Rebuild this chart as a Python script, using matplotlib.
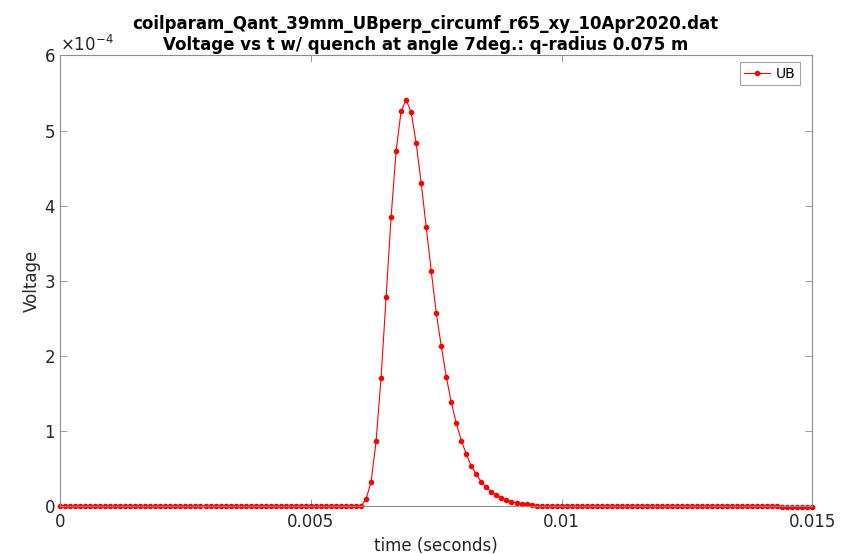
import numpy as np
import matplotlib.pyplot as plt

# sample times: 151 samples, 1e-4 s apart
t = np.arange(151) * 1e-4

# voltage (units of 1e-4 V)
v_before = [0.0] * 58
v_pulse = [0.002, 0.003, 0.005, 0.09, 0.32, 0.86, 1.71, 2.78, 3.85, 4.73,
           5.26, 5.41, 5.24, 4.83, 4.30, 3.71, 3.13, 2.57, 2.13, 1.72,
           1.38, 1.10, 0.87, 0.69, 0.53, 0.42, 0.32, 0.25, 0.19, 0.15,
           0.11, 0.08, 0.057, 0.044, 0.031, 0.023, 0.013, 0.006, 0.003, 0.002]
v_after = [0.001] * 46 + [-0.01] * 7
voltage = np.array(v_before + v_pulse + v_after) * 1e-4

xticks = [0, 0.005, 0.01, 0.015]
xlabels = ['0', '0.005', '0.01', '0.015']

axcol = '#262626'
spcol = '#8c8c8c'

fig = plt.figure(figsize=(8.48, 5.54), dpi=100)
ax = fig.add_axes([0.0708, 0.0866, 0.8873, 0.8134])

ax.plot(t, voltage, color='red', lw=0.8, marker='.', ms=6, label='UB', clip_on=False)

ax.set_xlim(0, 0.015)
ax.set_ylim(0, 6e-4)
ax.set_xticks(xticks)
ax.set_xticklabels(xlabels)
ax.set_yticks(np.arange(0, 7) * 1e-4)
ax.ticklabel_format(axis='y', style='sci', scilimits=(-4, -4), useMathText=True)

ax.tick_params(direction='in', top=True, right=True, length=5, width=0.6,
               colors=spcol, labelcolor=axcol, labelsize=12)
ax.tick_params(axis='x', pad=5)
for s in ax.spines.values():
    s.set_color(spcol)
    s.set_linewidth(0.8)
ax.yaxis.get_offset_text().set_fontsize(12)
ax.yaxis.get_offset_text().set_color(axcol)

ax.set_xlabel('time (seconds)', fontsize=12, color=axcol, labelpad=4)
ax.set_ylabel('Voltage', fontsize=12, color=axcol, labelpad=2)
ax.set_title('coilparam_Qant_39mm_UBperp_circumf_r65_xy_10Apr2020.dat\n'
             'Voltage vs t w/ quench at angle 7deg.: q-radius 0.075 m',
             fontsize=12, fontweight='bold', family='DejaVu Sans',
             pad=4, linespacing=1.2, color='black')
ax.title.set_x(0.486)

leg = ax.legend(loc='upper right', bbox_to_anchor=(1 - 12.7 / 752, 1 - 7 / 451),
                borderaxespad=0, fontsize=10, frameon=True, fancybox=False,
                handlelength=1.9, borderpad=0.3, handletextpad=0.4)
leg.get_frame().set_edgecolor(spcol)
leg.get_frame().set_linewidth(0.8)

fig.savefig('out.png', dpi=100)
